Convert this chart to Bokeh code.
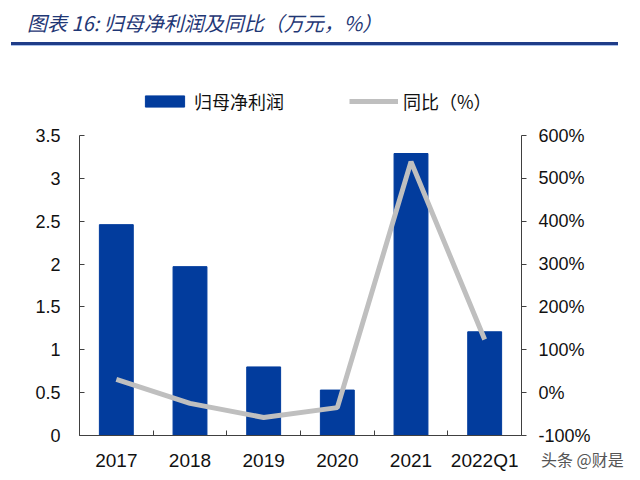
from bokeh.plotting import figure
from bokeh.models import (Range1d, LinearAxis, FixedTicker, PrintfTickFormatter,
                          Legend, LegendItem, ColumnDataSource, Div)
from bokeh.layouts import column
from bokeh.embed import file_html
from bokeh.resources import INLINE

categories = ["2017", "2018", "2019", "2020", "2021", "2022Q1"]
profit = [2.46, 1.97, 0.80, 0.53, 3.29, 1.21]
yoy = [31, -25, -58, -35, 539, 124]
left_ticks = [0, 0.5, 1, 1.5, 2, 2.5, 3, 3.5]
left_labels = ["0", "0.5", "1", "1.5", "2", "2.5", "3", "3.5"]
right_ticks = [-100, 0, 100, 200, 300, 400, 500, 600]

title_text = "图表 16:  归母净利润及同比（万元，%）"
bar_name = "归母净利润"
line_name = "同比（%）"
watermark = "头条 @财是"

BAR = "#023C9D"
LINE = "#BFBFBF"
AXIS = "#404040"
NUM_FONT = "Liberation Sans"
CJK = "Noto Sans CJK SC"

# pixel geometry of the frame (layout only)
FIG_H = 430
BOTTOM = 45
AXIS_TOP_PX = 85          # distance from figure top to the 3.5 / 600% tick
frame_h = FIG_H - BOTTOM
axis_h = frame_h - AXIS_TOP_PX
lmin, lmax = left_ticks[0], left_ticks[-1]
rmin, rmax = right_ticks[0], right_ticks[-1]
left_top = lmin + (lmax - lmin) * frame_h / axis_h
right_top = rmin + (rmax - rmin) * frame_h / axis_h

header = Div(
    text=(
        '<div style="position:relative;width:640px;height:50px;">'
        '<span style="position:absolute;left:27px;top:11px;white-space:nowrap;'
        "font-family:'Noto Sans CJK SC';font-style:italic;font-size:20px;line-height:24px;"
        'color:#1F3775;">' + title_text + '</span>'
        '<div style="position:absolute;left:11px;top:42px;width:607px;height:3px;'
        'background:#1F3C88;"></div>'
        '<div style="position:absolute;left:11px;top:45px;width:607px;height:1px;'
        'background:#A9C0EA;"></div>'
        '</div>'
    ),
    width=640, height=50, margin=0,
)

xs = list(range(len(categories)))
src = ColumnDataSource(dict(x=xs, profit=profit, yoy=yoy))

p = figure(width=640, height=FIG_H, output_backend="svg", toolbar_location=None,
           x_range=Range1d(-0.5, len(categories) - 0.5), y_range=Range1d(lmin, left_top),
           min_border_left=79, min_border_right=119, min_border_top=0, min_border_bottom=BOTTOM,
           margin=0)
p.outline_line_color = None
p.grid.visible = False
p.background_fill_color = "white"
p.border_fill_color = "white"
p.extra_y_ranges = {"pct": Range1d(rmin, right_top)}

bars = p.vbar(x="x", top="profit", width=0.46, source=src, color=BAR)
line = p.line(x="x", y="yoy", source=src, y_range_name="pct", line_color=LINE, line_width=5)

# x axis
xa = p.xaxis[0]
xa.ticker = FixedTicker(ticks=xs, minor_ticks=[i - 0.5 for i in range(len(categories) + 1)])
xa.major_label_overrides = {i: c for i, c in enumerate(categories)}
xa.major_tick_in = 0
xa.major_tick_out = 0
xa.minor_tick_in = 5
xa.minor_tick_out = 0
xa.minor_tick_line_color = AXIS
xa.axis_line_color = AXIS
xa.major_label_text_font = NUM_FONT
xa.major_label_text_font_size = "19px"
xa.major_label_text_color = "#111111"
xa.major_label_standoff = 14

# left axis
ya = p.yaxis[0]
ya.ticker = FixedTicker(ticks=left_ticks)
ya.bounds = (lmin, lmax)
ya.major_label_overrides = {t: l for t, l in zip(left_ticks, left_labels)}
ya.major_tick_in = 5
ya.major_tick_out = 0
ya.minor_tick_line_color = None
ya.axis_line_color = AXIS
ya.major_tick_line_color = AXIS
ya.major_label_text_font = NUM_FONT
ya.major_label_text_font_size = "18px"
ya.major_label_text_color = "#111111"
ya.major_label_standoff = 19

# right axis
ra = LinearAxis(y_range_name="pct", ticker=FixedTicker(ticks=right_ticks),
                formatter=PrintfTickFormatter(format="%d%%"), bounds=(rmin, rmax))
ra.major_tick_in = 0
ra.major_tick_out = 5
ra.minor_tick_line_color = None
ra.axis_line_color = AXIS
ra.major_tick_line_color = AXIS
ra.major_label_text_font = NUM_FONT
ra.major_label_text_font_size = "18px"
ra.major_label_text_color = "#111111"
ra.major_label_standoff = 12
p.add_layout(ra, "right")

# legend (inside the frame, above the axes' top)
legend = Legend(items=[LegendItem(label=bar_name, renderers=[bars]),
                       LegendItem(label=line_name, renderers=[line])],
                orientation="horizontal", location=(61, 321),
                glyph_width=49, glyph_height=14, label_standoff=5, spacing=65,
                padding=0, margin=0, border_line_color=None, background_fill_alpha=0,
                label_text_font=CJK, label_text_font_size="18px", label_text_color="#111111")
p.add_layout(legend, "center")

footer = Div(
    text=('<span style="white-space:nowrap;font-family:\'Noto Sans CJK SC\';font-size:16px;'
          'line-height:20px;color:#555555;">' + watermark + '</span>'),
    width=98, height=20, margin=(-31, 0, 0, 541),
)

layout = column(header, p, footer, spacing=0)
open("out.html", "w").write(file_html(layout, INLINE))
